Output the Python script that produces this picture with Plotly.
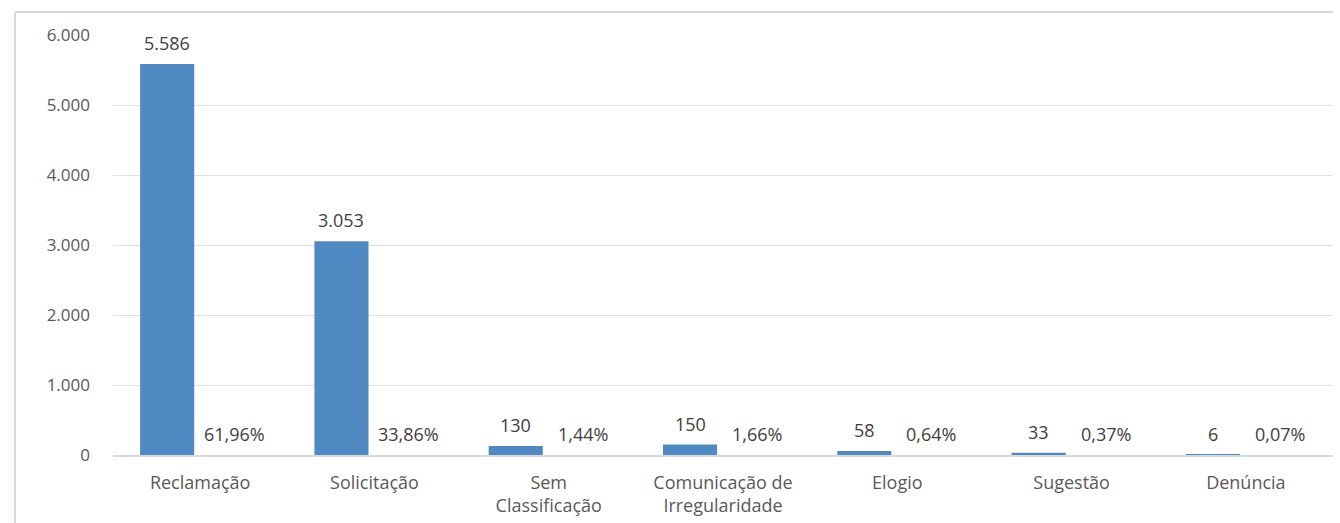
import plotly.graph_objects as go

categories = ["Reclamação", "Solicitação", "Sem<br>Classificação", "Comunicação de<br>Irregularidade",
              "Elogio", "Sugestão", "Denúncia"]
counts = [5586, 3053, 130, 150, 58, 33, 6]
percents = [61.96, 33.86, 1.44, 1.66, 0.64, 0.37, 0.07]
y_ticks = [0, 1000, 2000, 3000, 4000, 5000, 6000]

BAR = "#5088c2"
TXT = "#595959"
LBL = "#404040"
FONT = "Open Sans"

count_text = [f"{v:,}".replace(",", ".") for v in counts]
pct_text = [f"{p:.2f}".replace(".", ",") + "%" for p in percents]
pct_share = [p / 100 for p in percents]

fig = go.Figure()
fig.add_trace(go.Bar(x=categories, y=counts, marker=dict(color=BAR, line=dict(width=0)),
                     name="Quantidade", showlegend=False))
fig.add_trace(go.Bar(x=categories, y=pct_share, marker=dict(color="rgba(0,0,0,0)", line=dict(width=0)),
                     name="Percentual", showlegend=False))

annotations = []
for c, v, t in zip(categories, counts, count_text):
    annotations.append(dict(x=c, y=v, xref="x", yref="y", text=t, showarrow=False,
                            xshift=-33, yshift=21, yanchor="middle",
                            font=dict(family=FONT, size=18, color=LBL)))
for c, v, t in zip(categories, pct_share, pct_text):
    annotations.append(dict(x=c, y=v, xref="x", yref="y", text=t, showarrow=False,
                            xshift=34, yshift=21, yanchor="middle",
                            font=dict(family=FONT, size=18, color=LBL)))

top_y = 1 + 23 / 420
left_x = -98 / 1220
fig.update_layout(
    width=1340, height=523,
    margin=dict(l=113, r=7, t=35, b=68),
    paper_bgcolor="white", plot_bgcolor="white",
    barmode="group", bargap=0.243, bargroupgap=0.18,
    separators=",.",
    font=dict(family=FONT, color=TXT),
    annotations=annotations,
    shapes=[
        dict(type="line", xref="paper", yref="paper", x0=left_x, x1=1.0, y0=top_y, y1=top_y,
             line=dict(color="#d9d9d9", width=2)),
        dict(type="line", xref="paper", yref="paper", x0=left_x, x1=left_x, y0=top_y, y1=-0.3,
             line=dict(color="#d9d9d9", width=2)),
    ],
)
fig.update_yaxes(range=[0, 6000], tickvals=y_ticks, tickformat=",d",
                 showgrid=True, gridcolor="#e0e0e0", gridwidth=1, zeroline=False,
                 tickfont=dict(family=FONT, size=17, color=TXT), ticklabelstandoff=22,
                 showline=False)
fig.update_xaxes(showline=True, linecolor="#d9d9d9", linewidth=2, ticks="",
                 tickfont=dict(family=FONT, size=18, color=TXT), ticklabelstandoff=10,
                 tickangle=0)

fig.write_html("out.html", config={"displayModeBar": False},
               post_script="document.body.style.margin='0';document.body.style.overflow='hidden';")
